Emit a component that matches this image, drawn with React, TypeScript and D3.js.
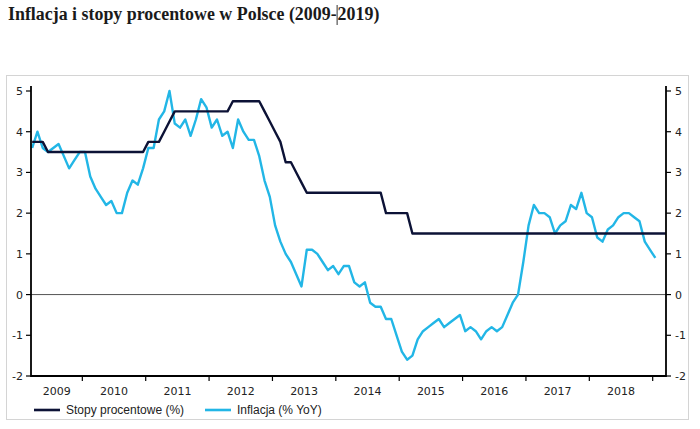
import React, { useLayoutEffect, useRef, useState } from "react";
import * as d3 from "d3";

// ---- data (monthly, starting March 2009) ----
const START_YEAR = 2009;
const START_MONTH = 3;

const rateValues: number[] = [
  // 2009 Mar-Dec
  3.75, 3.75, 3.75, 3.5, 3.5, 3.5, 3.5, 3.5, 3.5, 3.5,
  // 2010
  3.5, 3.5, 3.5, 3.5, 3.5, 3.5, 3.5, 3.5, 3.5, 3.5, 3.5, 3.5,
  // 2011
  3.75, 3.75, 3.75, 4.0, 4.25, 4.5, 4.5, 4.5, 4.5, 4.5, 4.5, 4.5,
  // 2012
  4.5, 4.5, 4.5, 4.5, 4.75, 4.75, 4.75, 4.75, 4.75, 4.75, 4.5, 4.25,
  // 2013
  4.0, 3.75, 3.25, 3.25, 3.0, 2.75, 2.5, 2.5, 2.5, 2.5, 2.5, 2.5,
  // 2014
  2.5, 2.5, 2.5, 2.5, 2.5, 2.5, 2.5, 2.5, 2.5, 2.0, 2.0, 2.0,
  // 2015
  2.0, 2.0, 1.5, 1.5, 1.5, 1.5, 1.5, 1.5, 1.5, 1.5, 1.5, 1.5,
  // 2016
  1.5, 1.5, 1.5, 1.5, 1.5, 1.5, 1.5, 1.5, 1.5, 1.5, 1.5, 1.5,
  // 2017
  1.5, 1.5, 1.5, 1.5, 1.5, 1.5, 1.5, 1.5, 1.5, 1.5, 1.5, 1.5,
  // 2018
  1.5, 1.5, 1.5, 1.5, 1.5, 1.5, 1.5, 1.5, 1.5, 1.5, 1.5, 1.5,
  // 2019 Jan-Mar
  1.5, 1.5, 1.5,
];

const inflationValues: number[] = [
  // 2009 Mar-Dec
  3.6, 4.0, 3.6, 3.5, 3.6, 3.7, 3.4, 3.1, 3.3, 3.5,
  // 2010
  3.5, 2.9, 2.6, 2.4, 2.2, 2.3, 2.0, 2.0, 2.5, 2.8, 2.7, 3.1,
  // 2011
  3.6, 3.6, 4.3, 4.5, 5.0, 4.2, 4.1, 4.3, 3.9, 4.3, 4.8, 4.6,
  // 2012
  4.1, 4.3, 3.9, 4.0, 3.6, 4.3, 4.0, 3.8, 3.8, 3.4, 2.8, 2.4,
  // 2013
  1.7, 1.3, 1.0, 0.8, 0.5, 0.2, 1.1, 1.1, 1.0, 0.8, 0.6, 0.7,
  // 2014
  0.5, 0.7, 0.7, 0.3, 0.2, 0.3, -0.2, -0.3, -0.3, -0.6, -0.6, -1.0,
  // 2015
  -1.4, -1.6, -1.5, -1.1, -0.9, -0.8, -0.7, -0.6, -0.8, -0.7, -0.6, -0.5,
  // 2016
  -0.9, -0.8, -0.9, -1.1, -0.9, -0.8, -0.9, -0.8, -0.5, -0.2, 0.0, 0.8,
  // 2017
  1.7, 2.2, 2.0, 2.0, 1.9, 1.5, 1.7, 1.8, 2.2, 2.1, 2.5, 2.0,
  // 2018
  1.9, 1.4, 1.3, 1.6, 1.7, 1.9, 2.0, 2.0, 1.9, 1.8, 1.3, 1.1,
  // 2019 Jan
  0.9,
];

const yTicks: number[] = [-2, -1, 0, 1, 2, 3, 4, 5];
const yearTicks: number[] = [2010, 2011, 2012, 2013, 2014, 2015, 2016, 2017, 2018, 2019];
const yearLabels: number[] = [2009, 2010, 2011, 2012, 2013, 2014, 2015, 2016, 2017, 2018];
const seriesNames: string[] = ["Stopy procentowe (%)", "Inflacja (% YoY)"];
const titleStart = "Inflacja i stopy procentowe w Polsce (2009-";
const titleEnd = "2019)";

const RATE_COLOR = "#0c1236";
const INFL_COLOR = "#22b6e6";

function monthPos(i: number): number {
  const m = START_MONTH - 1 + i;
  return START_YEAR + (m + 0.5) / 12;
}

export default function App() {
  const W = 700;
  const H = 429;
  const left = 31;
  const right = 666;
  const top = 91;
  const bottom = 376;

  const x = d3.scaleLinear().domain([2009.19, 2019.21]).range([left, right]);
  const y = d3.scaleLinear().domain([-2, 5]).range([bottom, top]);

  const line = d3
    .line<number>()
    .x((_, i) => x(monthPos(i)))
    .y((d) => y(d))
    .curve(d3.curveLinear);

  const titleRef = useRef<SVGTextElement>(null);
  const [titleW, setTitleW] = useState(330);
  useLayoutEffect(() => {
    if (titleRef.current) setTitleW(titleRef.current.getComputedTextLength());
  }, []);

  const labelX = (yr: number) =>
    yr === 2009 ? (left + x(2010)) / 2 : x(yr + 0.5);

  const tickFont = { fontFamily: "DejaVu Sans, Verdana, sans-serif", fontSize: 11, fill: "#222" };
  const titleFont = { fontFamily: "Liberation Serif, Times New Roman, serif", fontWeight: 700, fontSize: 17.9, fill: "#1a1a1a" };
  const titleX = 8;

  return (
    <svg
      width={W}
      height={H}
      style={{ position: "absolute", left: 0, top: 0, background: "#fff" }}
    >
      {/* title */}
      <text ref={titleRef} x={titleX} y={20} style={titleFont}>
        {titleStart}
      </text>
      <line x1={titleX + titleW + 0.5} x2={titleX + titleW + 0.5} y1={5} y2={25} stroke="#333" strokeWidth={1} />
      <text x={titleX + titleW + 1} y={20} style={titleFont}>
        {titleEnd}
      </text>

      {/* frame */}
      <rect x={6.5} y={75.5} width={682} height={344} fill="none" stroke="#d4d4d4" strokeWidth={1} />

      {/* zero line */}
      <line x1={left} x2={right} y1={y(0)} y2={y(0)} stroke="#555" strokeWidth={1} />

      {/* series */}
      <path d={line(inflationValues) || ""} fill="none" stroke={INFL_COLOR} strokeWidth={2.4} strokeLinejoin="round" />
      <path d={line(rateValues) || ""} fill="none" stroke={RATE_COLOR} strokeWidth={2.4} strokeLinejoin="round" />

      {/* axes */}
      <line x1={left} x2={left} y1={top - 5} y2={bottom + 1} stroke="#000" strokeWidth={1.8} />
      <line x1={right} x2={right} y1={top - 5} y2={bottom + 1} stroke="#000" strokeWidth={1.8} />
      <line x1={left} x2={right} y1={bottom} y2={bottom} stroke="#000" strokeWidth={1.8} />

      {yTicks.map((t) => (
        <g key={`yt${t}`}>
          <line x1={left - 5} x2={left} y1={y(t)} y2={y(t)} stroke="#000" strokeWidth={1.2} />
          <line x1={right} x2={right + 5} y1={y(t)} y2={y(t)} stroke="#000" strokeWidth={1.2} />
          <text x={left - 8} y={y(t)} dy="0.36em" textAnchor="end" style={tickFont}>
            {t}
          </text>
          <text x={right + 9} y={y(t)} dy="0.36em" textAnchor="start" style={tickFont}>
            {t}
          </text>
        </g>
      ))}

      {yearTicks.map((yr) => (
        <line key={`xt${yr}`} x1={x(yr)} x2={x(yr)} y1={bottom} y2={bottom + 5} stroke="#000" strokeWidth={1.2} />
      ))}
      {yearLabels.map((yr) => (
        <text key={`xl${yr}`} x={labelX(yr)} y={394.5} textAnchor="middle" style={tickFont}>
          {yr}
        </text>
      ))}

      {/* legend */}
      <line x1={34} x2={60} y1={410} y2={410} stroke={RATE_COLOR} strokeWidth={2.6} />
      <text x={66} y={410} dy="0.35em" style={{ fontFamily: "Liberation Sans, Arial, sans-serif", fontSize: 12, fill: "#222" }}>
        {seriesNames[0]}
      </text>
      <line x1={205} x2={231} y1={410} y2={410} stroke={INFL_COLOR} strokeWidth={2.6} />
      <text x={237} y={410} dy="0.35em" style={{ fontFamily: "Liberation Sans, Arial, sans-serif", fontSize: 12, fill: "#222" }}>
        {seriesNames[1]}
      </text>
    </svg>
  );
}
